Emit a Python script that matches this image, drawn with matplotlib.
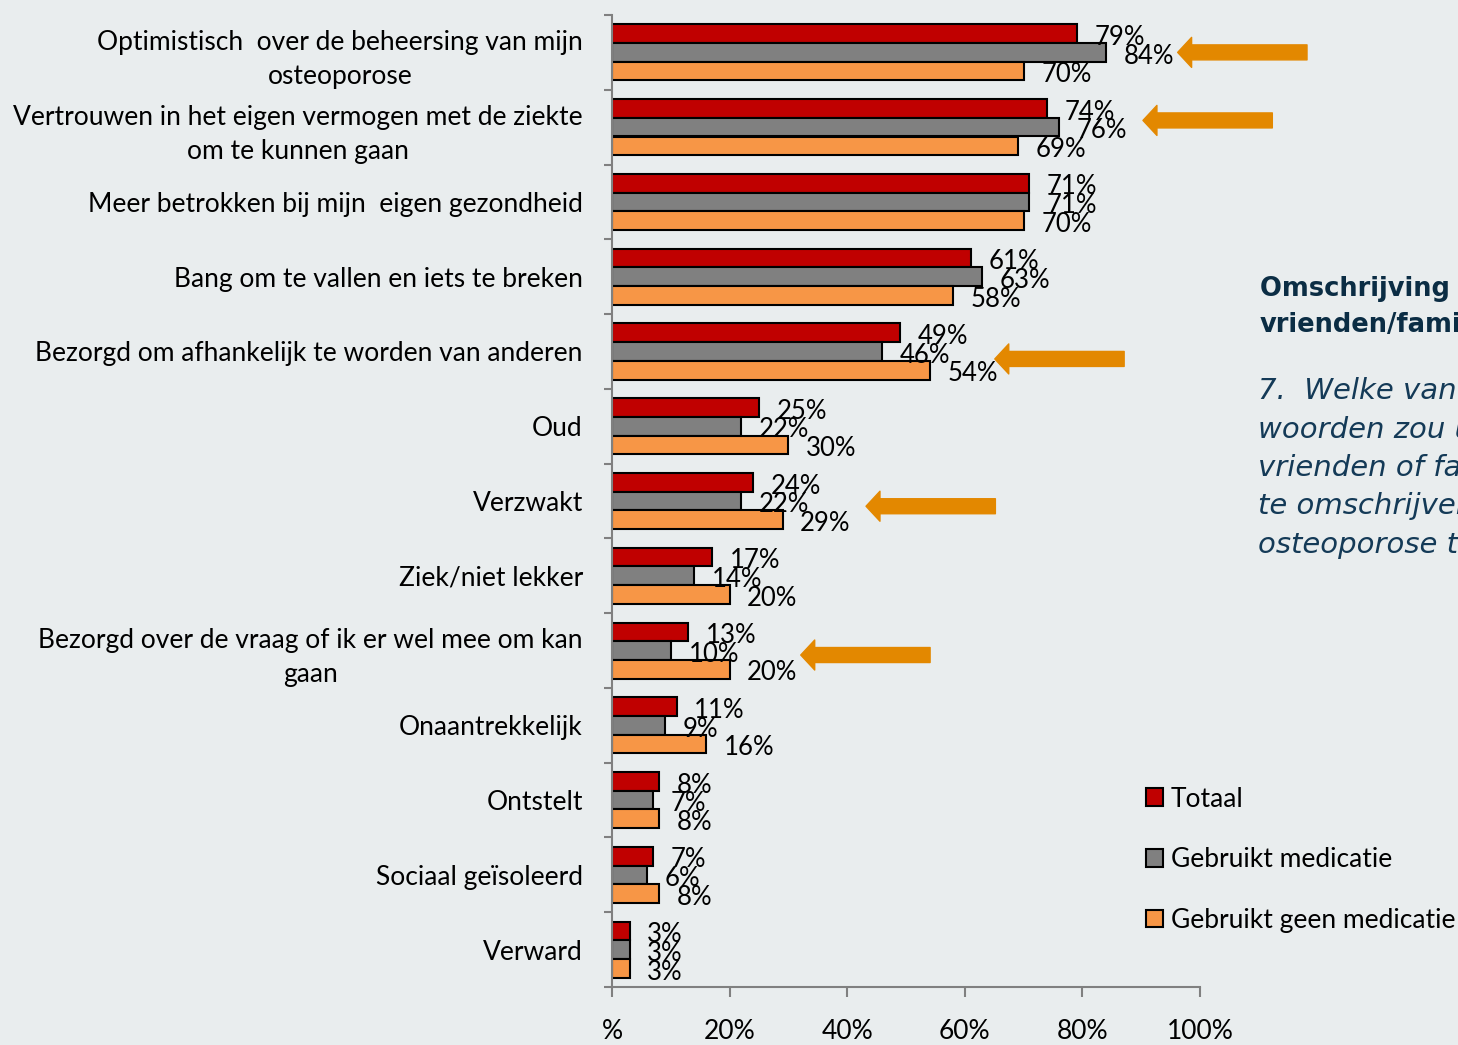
import matplotlib
matplotlib.use('Agg')
import matplotlib.pyplot as plt
from matplotlib.patches import Rectangle
import numpy as np

categories = [
    'Optimistisch  over de beheersing van mijn\nosteoporose',
    'Vertrouwen in het eigen vermogen met de ziekte\nom te kunnen gaan',
    'Meer betrokken bij mijn  eigen gezondheid',
    'Bang om te vallen en iets te breken',
    'Bezorgd om afhankelijk te worden van anderen',
    'Oud',
    'Verzwakt',
    'Ziek/niet lekker',
    'Bezorgd over de vraag of ik er wel mee om kan\ngaan',
    'Onaantrekkelijk',
    'Ontstelt',
    'Sociaal geïsoleerd',
    'Verward',
]
totaal = [79, 74, 71, 61, 49, 25, 24, 17, 13, 11, 8, 7, 3]
met_medicatie = [84, 76, 71, 63, 46, 22, 22, 14, 10, 9, 7, 6, 3]
zonder_medicatie = [70, 69, 70, 58, 54, 30, 29, 20, 20, 16, 8, 8, 3]
series_names = ['Totaal', 'Gebruikt medicatie', 'Gebruikt geen medicatie']
x_ticks = [0, 20, 40, 60, 80, 100]
x_tick_labels = ['%', '20%', '40%', '60%', '80%', '100%']

# rows with an arrow, where its tip sits (in %) and a small vertical nudge
highlight_rows = [0, 1, 4, 6, 8]
arrow_tips = [96.2, 90.3, 65.1, 43.2, 32.1]
arrow_nudge = [0.0, -0.09, 0.1, 0.07, 0.06]

BG = '#e9edee'
COLORS = ['#c00000', '#808080', '#f79646']
ARROW = '#e38800'
NAVY = '#0b2d44'
FONT = 'Lato'
FS = 19

fig = plt.figure(figsize=(14.58, 10.45), dpi=100, facecolor=BG)
ax = fig.add_axes([612 / 1458, 1 - 987 / 1045, 588 / 1458, 972 / 1045])
ax.set_facecolor(BG)

y = np.arange(len(categories))
bar_h = 0.25
for k, (vals, color, name) in enumerate(zip([totaal, met_medicatie, zonder_medicatie], COLORS, series_names)):
    pos = y + (k - 1) * bar_h
    ax.barh(pos, vals, height=bar_h, color=color, edgecolor='black', linewidth=1.5, label=name)
    for p, v in zip(pos, vals):
        ax.text(v + 3.0, p + 0.05, f'{v}%', ha='left', va='center', fontsize=18.5,
                family=FONT, color='black')

for r, tip, dy in zip(highlight_rows, arrow_tips, arrow_nudge):
    ax.annotate('', xy=(tip, r + dy), xytext=(tip + 22, r + dy),
                arrowprops=dict(arrowstyle='simple,head_length=0.67,head_width=1.44,tail_width=0.72',
                                color=ARROW, mutation_scale=15, shrinkA=0, shrinkB=0),
                annotation_clip=False)

ax.set_xlim(0, 100)
ax.set_ylim(len(categories) - 0.5, -0.5)
ax.set_xticks(x_ticks)
ax.set_xticklabels(x_tick_labels, family=FONT, fontsize=FS)
ax.tick_params(axis='x', length=7, width=1.5, color='#808080', pad=16)

ax.set_yticks(np.arange(len(categories) + 1) - 0.5)
ax.set_yticklabels([])
ax.set_yticks(y, minor=True)
ax.set_yticklabels(categories, minor=True, family=FONT, fontsize=FS,
                   multialignment='center', linespacing=1.46)
ax.tick_params(axis='y', which='major', length=6, width=1.5, color='#808080')
ax.tick_params(axis='y', which='minor', length=0, pad=21)

for side in ['top', 'right']:
    ax.spines[side].set_visible(False)
for side in ['left', 'bottom']:
    ax.spines[side].set_color('#808080')
    ax.spines[side].set_linewidth(1.5)

handles = [Rectangle((0, 0), 1, 1, facecolor=c, edgecolor='black', linewidth=1.5) for c in COLORS]
fig.legend(handles, series_names, loc='upper left', bbox_to_anchor=(1135 / 1458, 1 - 776 / 1045),
           frameon=False, prop={'family': FONT, 'size': FS}, handlelength=0.65, handleheight=0.65,
           handletextpad=0.3, labelspacing=1.35, borderaxespad=0)

fig.text(1260 / 1458, 1 - 307 / 1045, 'Omschrijving door\nvrienden/familie', ha='left', va='center',
         family='DejaVu Sans', fontweight='bold', fontsize=18.5, color=NAVY, linespacing=1.5)
fig.text(1258 / 1458, 1 - 468 / 1045,
         '7.  Welke van de volgende\nwoorden zou u gebruiken\nvrienden of familie met\n'
         'te omschrijven nadat zij\nosteoporose te hebben?',
         ha='left', va='center', family='DejaVu Sans', style='italic', fontsize=21,
         color='#143a57', linespacing=1.47)

fig.savefig('out.png', dpi=100, facecolor=BG)
